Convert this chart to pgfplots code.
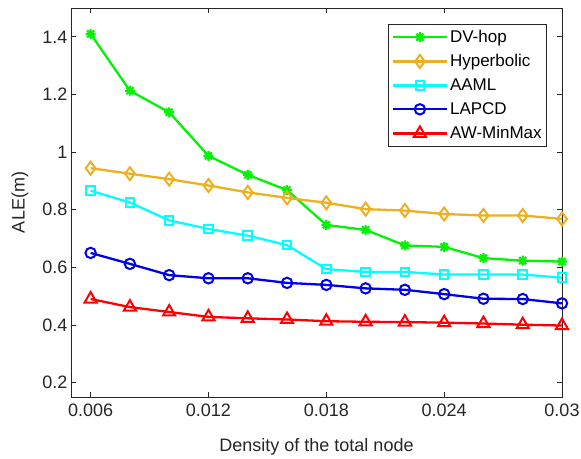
\documentclass[border=0pt]{standalone}
\usepackage{pgfplots}
\pgfplotsset{compat=1.18}
\usepackage{fontspec}
\setmainfont{Liberation Sans}
\definecolor{cgreen}{rgb}{0.02,0.95,0.02}
\definecolor{corange}{rgb}{0.93,0.69,0.13}
\definecolor{ccyan}{rgb}{0,1,1}
\definecolor{cblue}{rgb}{0,0,0.92}
\definecolor{cred}{rgb}{1,0,0}
\definecolor{axgray}{rgb}{0.15,0.15,0.15}
\pgfdeclareplotmark{dstar}{%
  \pgfpathmoveto{\pgfqpoint{0pt}{\pgfplotmarksize}}\pgfpathlineto{\pgfqpoint{0pt}{-\pgfplotmarksize}}%
  \pgfpathmoveto{\pgfqpoint{\pgfplotmarksize}{0pt}}\pgfpathlineto{\pgfqpoint{-\pgfplotmarksize}{0pt}}%
  \pgfpathmoveto{\pgfqpoint{0.707\pgfplotmarksize}{0.707\pgfplotmarksize}}\pgfpathlineto{\pgfqpoint{-0.707\pgfplotmarksize}{-0.707\pgfplotmarksize}}%
  \pgfpathmoveto{\pgfqpoint{0.707\pgfplotmarksize}{-0.707\pgfplotmarksize}}\pgfpathlineto{\pgfqpoint{-0.707\pgfplotmarksize}{0.707\pgfplotmarksize}}%
  \pgfusepathqstroke}
\begin{document}
\begin{tikzpicture}
\begin{axis}[
  at={(0,0)}, anchor=south west,
  scale only axis, width=491pt, height=389pt,
  xmin=0.005, xmax=0.03, ymin=0.15, ymax=1.5,
  xtick={0.006,0.012,0.018,0.024,0.03},
  xticklabels={0.006,0.012,0.018,0.024,0.03},
  ytick={0.2,0.4,0.6,0.8,1.0,1.2,1.4},
  yticklabels={0.2,0.4,0.6,0.8,1,1.2,1.4},
  scaled ticks=false,
  tick align=inside,
  major tick length=5pt,
  axis line style={draw=axgray, line width=0.7pt},
  tick style={draw=axgray, line width=0.7pt},
  ticklabel style={font=\fontsize{18}{20}\selectfont, text=axgray},
  xticklabel style={yshift=-3pt},
  /pgf/number format/assume math mode=true,
  xlabel={Density of the total node},
  ylabel={ALE(m)},
  label style={font=\fontsize{18}{20}\selectfont, text=axgray},
  xlabel style={at={(axis description cs:0.5,-0.127)}, anchor=center},
  ylabel style={at={(axis description cs:-0.104,0.5)}, anchor=center},
  legend style={at={(rel axis cs:0.9695,0.959)}, anchor=north east,
    font=\fontsize{17}{18}\selectfont, draw=axgray, line width=0.7pt,
    inner sep=3pt, row sep=6.5pt, inner ysep=4pt},
  legend cell align=left,
  legend image code/.code={\draw[mark repeat=2,mark phase=2] plot coordinates {(0pt,0pt) (27pt,0pt) (54pt,0pt)};},
]
\addplot[color=cgreen, line width=2.3pt, mark=dstar, mark size=5pt, mark options={line width=2.2pt}] coordinates {
(0.006,1.41) (0.008,1.213) (0.010,1.138) (0.012,0.987) (0.014,0.921) (0.016,0.868)
(0.018,0.747) (0.020,0.730) (0.022,0.676) (0.024,0.671) (0.026,0.632) (0.028,0.623) (0.030,0.620)};
\addlegendentry{DV-hop}
\addplot[color=corange, line width=2.3pt, mark=diamond, mark size=6.5pt, mark options={line width=2pt}] coordinates {
(0.006,0.944) (0.008,0.925) (0.010,0.906) (0.012,0.884) (0.014,0.860) (0.016,0.841)
(0.018,0.824) (0.020,0.802) (0.022,0.797) (0.024,0.785) (0.026,0.780) (0.028,0.780) (0.030,0.768)};
\addlegendentry{Hyperbolic}
\addplot[color=ccyan, line width=2.3pt, mark=square, mark size=4.3pt, mark options={line width=2pt}] coordinates {
(0.006,0.866) (0.008,0.825) (0.010,0.763) (0.012,0.733) (0.014,0.710) (0.016,0.677)
(0.018,0.594) (0.020,0.584) (0.022,0.584) (0.024,0.575) (0.026,0.575) (0.028,0.575) (0.030,0.564)};
\addlegendentry{AAML}
\addplot[color=cblue, line width=2.3pt, mark=o, mark size=5.2pt, mark options={line width=2pt}] coordinates {
(0.006,0.650) (0.008,0.612) (0.010,0.573) (0.012,0.562) (0.014,0.562) (0.016,0.546)
(0.018,0.539) (0.020,0.527) (0.022,0.522) (0.024,0.507) (0.026,0.491) (0.028,0.490) (0.030,0.475)};
\addlegendentry{LAPCD}
\addplot[color=cred, line width=2.3pt, mark=triangle, mark size=7pt, mark options={line width=2pt}] coordinates {
(0.006,0.490) (0.008,0.462) (0.010,0.445) (0.012,0.428) (0.014,0.423) (0.016,0.419)
(0.018,0.413) (0.020,0.411) (0.022,0.410) (0.024,0.408) (0.026,0.405) (0.028,0.401) (0.030,0.398)};
\addlegendentry{AW-MinMax}
\end{axis}
\pgfresetboundingbox
\path (-71pt,-61pt) rectangle (510pt,397pt);
\end{tikzpicture}
\end{document}
